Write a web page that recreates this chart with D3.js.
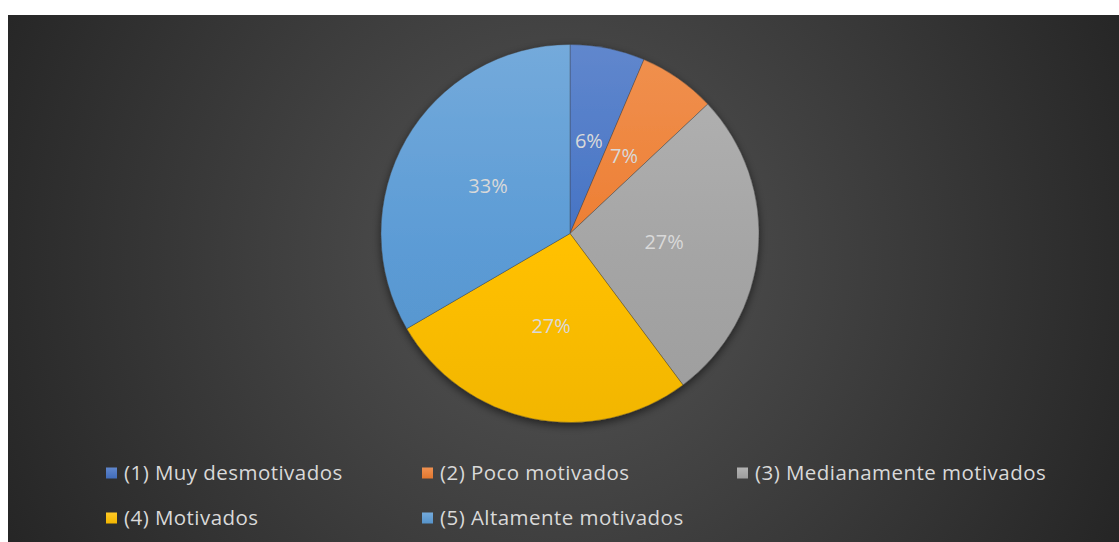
<!DOCTYPE html>
<html>
<head>
<meta charset="utf-8">
<script src="https://cdn.jsdelivr.net/npm/d3@7"></script>
<style>
  body { margin: 0; background: #fff; }
  svg { display: block; }
</style>
</head>
<body>
<div id="chart"></div>
<script>
var categories = ['(1) Muy desmotivados', '(2) Poco motivados', '(3) Medianamente motivados', '(4) Motivados', '(5) Altamente motivados'];
var values = [6.4, 6.6, 26.8, 26.8, 33.4];
var colors = ['#4472C4', '#ED7D31', '#A5A5A5', '#FFC000', '#5B9BD5'];

var w = 1119, h = 542;
var area = {x: 8, y: 15, w: 1111, h: 527};
var cx = 570, cy = 233.5, r = 189;

var svg = d3.select('#chart').append('svg').attr('width', w).attr('height', h);
var defs = svg.append('defs');

var bg = defs.append('radialGradient').attr('id', 'bg')
  .attr('gradientUnits', 'userSpaceOnUse')
  .attr('cx', 560).attr('cy', 260).attr('r', 640);
bg.append('stop').attr('offset', '0%').attr('stop-color', '#555555');
bg.append('stop').attr('offset', '100%').attr('stop-color', '#242424');

svg.append('rect').attr('x', area.x).attr('y', area.y)
  .attr('width', area.w).attr('height', area.h).attr('fill', 'url(#bg)');

function lighter(c) { return d3.interpolateRgb(c, '#ffffff')(0.15); }
function deeper(c) { return d3.interpolateRgb(c, '#000000')(0.05); }

// slice gradients, lighter at top
colors.forEach(function(c, i) {
  var g = defs.append('linearGradient').attr('id', 'sl' + i)
    .attr('gradientUnits', 'userSpaceOnUse')
    .attr('x1', 0).attr('y1', -r).attr('x2', 0).attr('y2', r);
  g.append('stop').attr('offset', '0%').attr('stop-color', lighter(c));
  g.append('stop').attr('offset', '55%').attr('stop-color', c);
  g.append('stop').attr('offset', '100%').attr('stop-color', deeper(c));
  var lg = defs.append('linearGradient').attr('id', 'lg' + i).attr('x1', 0).attr('y1', 0).attr('x2', 0).attr('y2', 1);
  lg.append('stop').attr('offset', '0%').attr('stop-color', lighter(c));
  lg.append('stop').attr('offset', '100%').attr('stop-color', deeper(c));
});

var shadow = defs.append('filter').attr('id', 'shadow')
  .attr('x', '-20%').attr('y', '-20%').attr('width', '140%').attr('height', '140%');
shadow.append('feDropShadow').attr('dx', 0).attr('dy', 3).attr('stdDeviation', 4)
  .attr('flood-color', '#000').attr('flood-opacity', 0.55);

var pie = d3.pie().sort(null).value(function(d) { return d; });
var arc = d3.arc().innerRadius(0).outerRadius(r);
var arcs = pie(values);

svg.append('g').attr('filter', 'url(#shadow)')
  .attr('transform', 'translate(' + cx + ',' + cy + ')')
  .selectAll('path').data(arcs).enter().append('path')
  .attr('d', arc)
  .attr('fill', function(d, i) { return 'url(#sl' + i + ')'; })
  .attr('stroke', 'rgba(60,60,60,0.6)')
  .attr('stroke-width', 0.6);

var fmt = d3.format('.0%');
svg.append('g').selectAll('text').data(arcs).enter().append('text')
  .attr('transform', function(d) {
    var c = arc.centroid(d);
    return 'translate(' + (cx + c[0]) + ',' + (cy + c[1]) + ')';
  })
  .attr('text-anchor', 'middle')
  .attr('dy', '0.35em')
  .attr('fill', '#d9d9d9')
  .style('font-family', '"Open Sans", sans-serif')
  .style('font-size', '20px')
  .text(function(d) { return fmt(d.data / 100); });

// legend
var legendPos = [[106, 473], [422, 473], [737, 473], [106, 518], [422, 518]];
var leg = svg.append('g').selectAll('g').data(categories).enter().append('g')
  .attr('transform', function(d, i) { return 'translate(' + legendPos[i][0] + ',' + legendPos[i][1] + ')'; });
leg.append('rect').attr('x', 0).attr('y', -5.5).attr('width', 11).attr('height', 11)
  .attr('fill', function(d, i) { return 'url(#lg' + i + ')'; });
leg.append('text').attr('x', 18).attr('dy', '0.36em')
  .attr('fill', '#d9d9d9')
  .style('font-family', '"Open Sans", sans-serif')
  .style('font-size', '20.5px')
  .style('letter-spacing', '0.45px')
  .text(function(d) { return d; });
</script>
</body>
</html>
